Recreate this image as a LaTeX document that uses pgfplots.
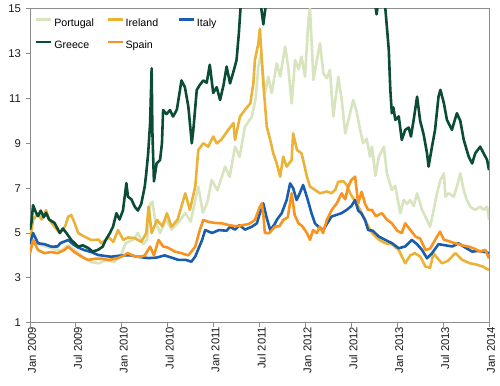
\documentclass[border=0pt]{standalone}
\usepackage{pgfplots}
\pgfplotsset{compat=1.18}
\usepackage{fontspec}
\setmainfont{Liberation Sans}
\definecolor{axisgray}{HTML}{8C8C8C}
\definecolor{cPortugal}{HTML}{D7E4BD}
\definecolor{cIreland}{HTML}{EBB238}
\definecolor{cItaly}{HTML}{1A5DAD}
\definecolor{cGreece}{HTML}{0A4C35}
\definecolor{cSpain}{HTML}{F7931E}
\begin{document}
\begin{tikzpicture}
\useasboundingbox (-30bp,-63.3bp) rectangle (470bp,322.7bp);
\begin{axis}[
  at={(0,0)}, anchor=south west,
  scale only axis, width=459bp, height=314bp,
  xmin=0, xmax=60, ymin=1, ymax=15,
  xtick={0,6,...,60},
  xticklabels={Jan 2009,Jul 2009,Jan 2010,Jul 2010,Jan 2011,Jul 2011,Jan 2012,Jul 2012,Jan 2013,Jul 2013,Jan 2014},
  ytick={1,3,...,15},
  /pgf/number format/assume math mode=true,
  axis line style={draw=axisgray, line width=0.8bp},
  tick style={draw=axisgray, line width=0.8bp},
  tick align=outside, major tick length=4bp,
  xtick pos=bottom, ytick pos=left,
  x tick label style={rotate=90, anchor=east, inner sep=0pt, yshift=-2bp, font=\fontsize{11.3}{13}\selectfont, text=black!90},
  y tick label style={anchor=east, inner sep=0pt, xshift=-5bp, font=\fontsize{11.3}{13}\selectfont, text=black!90},
  no markers,
  every axis plot/.append style={line width=2.6bp, line join=round},
  legend columns=3,
  legend style={at={(axis description cs:0,1)}, anchor=north west, xshift=5bp, yshift=-9.6bp,
    draw=none, fill=none, inner sep=0pt, outer sep=0pt, row sep=12.4bp,
    column sep=0pt,
    nodes={inner sep=0pt, text height=7.7bp, text depth=2.3bp, text width=52bp, align=left},
    font=\fontsize{10.7}{12}\selectfont,
    /tikz/every odd column/.append style={column sep=1.7bp}},
  legend cell align=left,
  legend image code/.code={\draw[#1] (0bp,3.8bp) -- (15bp,3.8bp);},
]
% Portugal
\addplot[cPortugal] coordinates {
(0,4.4)(0.4,4.6)(1,4.5)(2,4.4)(3,4.3)(4,4.2)(5,4.45)(6,4.2)(7,3.9)(8,3.7)(9,3.65)(10,3.8)(11,3.7)(12,4.1)(12.5,4.55)(13.5,4.7)(14.1,5.0)(14.8,4.5)(15.3,4.7)(15.7,6.3)(16,6.4)(16.4,5.5)(17,5.0)(17.8,5.6)(18.5,5.15)(19.5,5.5)(20.3,5.9)(21,5.5)(21.5,6.3)(22,7.07)(22.6,5.9)(23.2,6.4)(23.75,7.36)(24.5,6.9)(25.5,7.96)(26.1,7.5)(26.8,8.85)(27.4,8.4)(28.1,9.74)(29.0,10.19)(29.5,11.0)(29.85,12.42)(30.2,13.0)(30.7,11.24)(31.15,11.97)(31.6,11.24)(32.25,12.57)(32.7,11.97)(33.35,13.31)(33.75,12.42)(34.2,10.78)(34.65,12.71)(35.1,12.3)(35.5,12.86)(35.95,11.97)(36.4,14.5)(36.6,15.0)(37.05,11.82)(37.5,12.7)(37.9,13.46)(38.35,12.12)(38.8,11.9)(39.2,12.27)(39.65,10.19)(40.3,11.97)(40.75,10.93)(41.2,9.44)(41.6,10.0)(42.25,10.93)(42.7,10.4)(43.15,9.6)(43.55,9.0)(44.0,9.2)(44.45,8.4)(44.7,8.85)(44.9,8.3)(45.15,7.55)(45.6,8.4)(46.25,8.85)(46.65,7.66)(47.3,6.92)(47.75,7.1)(48.4,5.88)(48.85,6.47)(49.3,6.3)(49.7,6.47)(50.15,6.2)(50.6,6.77)(51.25,6.03)(51.9,5.58)(52.3,5.28)(52.75,6.0)(53.2,6.77)(53.65,7.36)(54.1,7.66)(54.3,6.62)(54.7,6.77)(55.4,6.62)(55.8,7.07)(56.25,7.66)(56.7,6.9)(57.1,6.47)(57.55,6.17)(58.2,6.03)(58.85,6.17)(59.3,6.03)(59.75,6.17)(60,5.58)
};
\addlegendentry{Portugal}
% Ireland
\addplot[cIreland] coordinates {
(0,4.69)(0.15,5.0)(0.4,5.58)(1.05,5.88)(1.5,5.6)(2.1,6.02)(2.5,5.6)(3.2,5.28)(3.9,5.0)(4.6,5.3)(5.0,5.73)(5.4,5.8)(5.85,5.43)(6.3,5.0)(7.1,4.84)(8.0,4.69)(9.0,4.7)(9.3,4.54)(10.3,4.8)(10.9,4.6)(11.5,5.13)(12.2,4.69)(12.8,4.8)(13.7,4.77)(14.55,4.6)(15.2,5.0)(15.5,6.17)(15.9,5.0)(16.6,5.58)(17.3,5.3)(17.9,5.88)(18.5,5.28)(19.3,5.6)(20.3,6.77)(20.9,6.03)(21.6,7.07)(22.0,8.7)(22.65,9.0)(23.3,8.85)(23.95,9.3)(24.4,9.0)(25.0,9.15)(25.9,9.59)(26.6,9.9)(26.8,9.15)(27.45,10.19)(28.1,10.49)(28.8,10.78)(29.2,11.67)(29.4,12.71)(29.85,13.46)(30.05,14.1)(30.5,11.67)(30.95,9.74)(31.4,9.15)(31.8,8.55)(32.25,8.1)(32.7,7.51)(33.1,8.4)(33.55,7.96)(34.2,8.25)(34.4,9.44)(34.9,8.7)(35.5,8.55)(36.2,7.51)(36.6,7.07)(37.25,6.92)(37.9,6.77)(38.8,6.85)(39.4,6.77)(39.9,6.92)(40.3,7.29)(41.0,7.3)(41.4,7.14)(41.85,6.77)(42.7,6.3)(43.15,6.03)(44.0,5.43)(44.7,5.0)(45.6,4.7)(46.45,4.54)(47.3,4.5)(48.2,4.24)(49.05,3.65)(49.7,4.0)(50.3,4.1)(51.0,3.95)(51.25,3.8)(51.7,3.5)(52.3,3.45)(52.75,4.09)(53.2,3.9)(53.85,3.65)(54.6,3.75)(55.6,4.1)(56.5,3.8)(57.5,3.65)(58.3,3.6)(59.2,3.5)(60,3.35)
};
\addlegendentry{Ireland}
% Italy
\addplot[cItaly] coordinates {
(0,4.5)(0.4,5.0)(1.05,4.54)(1.9,4.5)(2.8,4.39)(3.6,4.4)(4.0,4.55)(5.0,4.69)(5.6,4.5)(6.3,4.35)(7.1,4.24)(8.0,4.15)(8.9,4.02)(9.7,3.98)(10.6,3.94)(11.5,3.98)(12.3,4.0)(13.2,4.0)(14.1,3.94)(15.0,3.9)(15.5,3.88)(16.5,3.9)(17.6,4.0)(18.7,3.88)(19.4,3.8)(20.4,3.8)(21.1,3.72)(21.6,3.95)(22.5,4.69)(22.9,5.13)(23.8,5.0)(24.7,5.13)(25.7,5.1)(26.15,5.28)(26.8,5.15)(27.4,5.35)(28.1,5.15)(29.0,5.28)(29.65,5.43)(30.05,5.88)(30.5,6.32)(30.9,5.73)(31.4,5.13)(32.0,5.4)(32.25,5.58)(32.9,5.88)(33.55,6.47)(34.0,7.21)(34.4,7.0)(34.85,6.47)(35.3,6.8)(35.7,7.14)(36.2,6.6)(36.8,5.88)(37.25,5.43)(37.7,5.28)(38.35,5.13)(38.8,5.4)(39.4,5.73)(40.0,5.8)(40.7,5.88)(41.4,6.03)(42.0,6.2)(42.5,6.47)(42.9,6.0)(43.3,5.88)(43.8,5.58)(44.2,5.13)(44.8,5.1)(45.6,4.84)(46.45,4.69)(47.3,4.55)(48.2,4.32)(49.05,4.4)(49.9,4.69)(50.6,4.5)(51.25,4.24)(51.9,3.87)(52.55,4.1)(53.4,4.5)(54.3,4.45)(55.2,4.4)(56.0,4.54)(56.9,4.35)(57.8,4.17)(58.6,4.2)(59.5,4.15)(60,4.1)
};
\addlegendentry{Italy}
% Greece
\addplot[cGreece] coordinates {
(0,5.15)(0.2,5.5)(0.4,6.24)(0.8,5.9)(1.05,5.75)(1.4,6.0)(1.8,5.7)(2.1,5.9)(2.5,5.6)(3.2,5.45)(3.9,5.0)(4.3,5.2)(4.75,5.0)(5.4,4.69)(6.3,4.39)(6.9,4.45)(7.6,4.33)(8.2,4.17)(8.9,4.25)(9.5,4.39)(9.9,4.69)(10.45,5.0)(10.85,5.28)(11.3,5.88)(11.7,5.6)(12.15,6.0)(12.6,7.22)(12.8,6.62)(13.25,6.5)(13.7,6.17)(14.1,6.0)(14.55,6.3)(15.0,7.07)(15.2,7.67)(15.45,8.57)(15.7,9.9)(15.9,12.34)(16.0,9.5)(16.2,7.3)(16.55,8.1)(17.0,8.25)(17.25,9.0)(17.4,10.48)(17.85,10.3)(18.3,10.48)(18.7,10.19)(19.2,10.5)(19.4,10.93)(19.8,11.8)(20.25,11.5)(20.7,10.63)(21.15,9.0)(21.35,9.6)(21.8,11.38)(22.2,11.6)(22.65,11.8)(23.1,11.7)(23.5,12.5)(23.95,11.24)(24.4,11.5)(24.85,10.93)(25.3,11.6)(25.7,12.42)(26.15,11.67)(26.6,12.2)(27.0,12.71)(27.3,13.9)(27.5,14.94)(27.85,16.5)(28.5,17)(29.4,17)(30.05,15.5)(30.5,14.3)(30.95,15.5)(31.4,17)(34,20)(40.5,25)(44.4,20)(45.0,15.5)(45.3,14.75)(45.6,15.5)(46.0,16)(46.45,15.0)(46.65,14.2)(46.9,13.16)(47.1,11.38)(47.3,10.34)(47.5,10.6)(47.75,10.04)(48.2,10.2)(48.6,9.15)(49.05,9.6)(49.5,9.7)(49.8,9.3)(50.15,10.04)(50.6,11.08)(51.0,10.0)(51.45,9.4)(51.9,8.55)(52.1,7.96)(52.55,8.85)(52.95,9.6)(53.4,11.08)(53.65,11.38)(54.1,10.79)(54.5,10.04)(55.15,9.6)(55.8,10.34)(56.25,10.0)(56.7,9.15)(57.35,8.4)(57.8,8.1)(58.2,8.55)(58.85,8.85)(59.3,8.55)(59.75,8.26)(60,7.8)
};
\addlegendentry{Greece}
% Spain
\addplot[cSpain] coordinates {
(0,4.1)(0.4,4.69)(1.05,4.24)(1.9,4.1)(2.8,4.15)(3.6,4.1)(4.5,4.24)(5.0,4.39)(5.8,4.15)(6.7,3.95)(7.6,3.8)(8.5,3.85)(9.4,3.85)(10.3,3.8)(11.2,3.85)(12.0,3.95)(12.8,4.1)(13.7,3.95)(14.55,3.95)(15.0,4.0)(15.7,4.39)(16.2,4.0)(16.8,4.69)(17.4,4.4)(18.0,4.35)(18.95,4.17)(19.8,4.1)(20.7,4.0)(21.6,4.39)(22.2,5.13)(22.65,5.58)(23.3,5.5)(24.1,5.45)(25.1,5.43)(26.0,5.35)(26.9,5.3)(27.8,5.35)(28.6,5.4)(29.4,5.58)(30.05,6.17)(30.3,6.32)(30.5,5.8)(30.7,5.0)(31.3,5.0)(32.0,5.28)(32.6,5.3)(33.1,5.58)(33.7,5.7)(34.2,6.77)(34.6,5.8)(35.1,5.43)(35.6,5.3)(36.2,5.0)(36.6,4.69)(37.0,5.13)(37.5,5.0)(37.9,5.28)(38.3,5.0)(38.8,5.58)(39.45,6.03)(40.1,6.32)(40.75,6.77)(41.2,6.5)(41.6,7.07)(42.0,7.36)(42.5,7.51)(42.9,6.32)(43.35,6.84)(43.8,6.3)(44.2,6.03)(44.7,6.03)(45.2,5.75)(46.0,5.88)(46.65,5.6)(47.3,5.43)(48.0,5.1)(48.6,5.0)(49.05,5.43)(49.8,5.1)(50.4,4.84)(51.0,4.75)(51.7,4.24)(52.3,4.3)(52.95,4.69)(53.6,5.06)(54.1,4.7)(54.6,4.65)(55.6,4.54)(56.5,4.45)(57.35,4.39)(58.1,4.3)(58.85,4.17)(59.5,4.25)(60,3.87)
};
\addlegendentry{Spain}
\end{axis}
\end{tikzpicture}
\end{document}
